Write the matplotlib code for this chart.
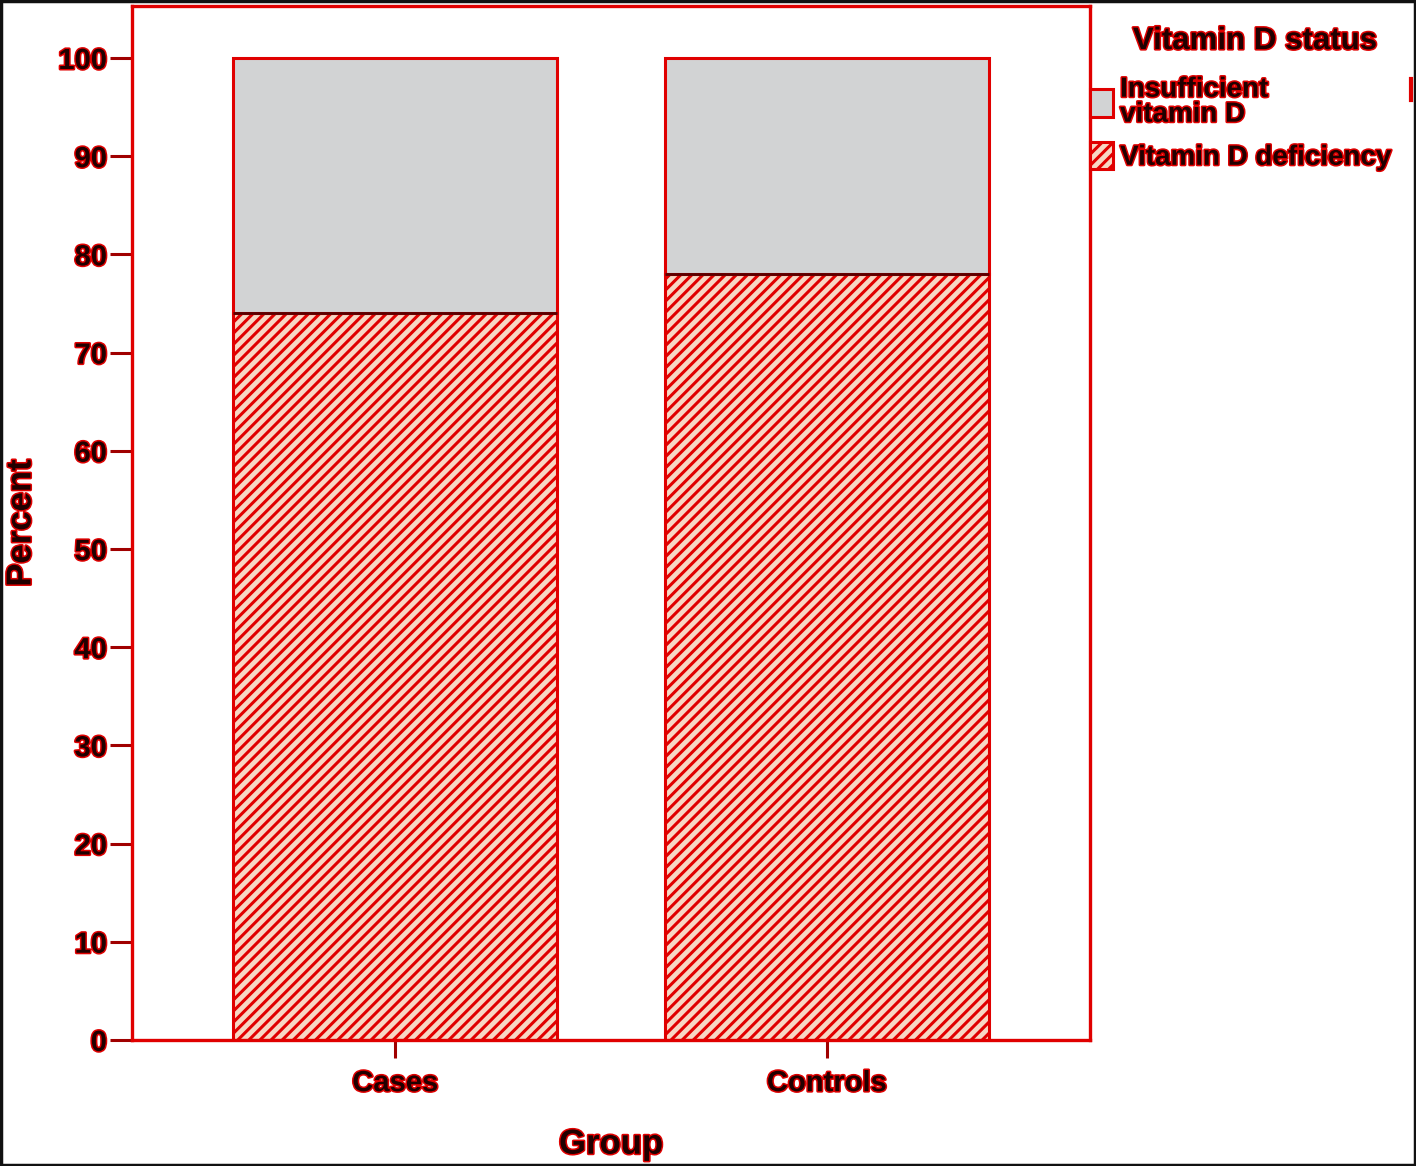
import numpy as np
import matplotlib
matplotlib.use("Agg")
import matplotlib.pyplot as plt
import matplotlib.patheffects as pe
from matplotlib.patches import Rectangle, Patch
from matplotlib.lines import Line2D

groups = ["Cases", "Controls"]
deficiency = [74, 78]
insufficient = [26, 22]
yticks = [0, 10, 20, 30, 40, 50, 60, 70, 80, 90, 100]

RED = "#e00000"
TXT = "#200000"
GRAY = "#d2d3d4"
PINK = "#f7d7c4"

plt.rcParams["font.family"] = ["Liberation Sans", "DejaVu Sans"]
plt.rcParams["font.weight"] = "bold"
plt.rcParams["axes.labelweight"] = "bold"
plt.rcParams["hatch.linewidth"] = 2.2
plt.rcParams["hatch.color"] = RED

outline = [pe.withStroke(linewidth=2.2, foreground=RED)]

fig = plt.figure(figsize=(14.16, 11.66), dpi=100)
ax = fig.add_axes([0.0932, 0.1081, 0.6766, 0.8868])

x = np.arange(len(groups))
w = 0.75
ax.bar(x, deficiency, w, color=PINK, edgecolor=RED, hatch="///", linewidth=2.2,
       label="Vitamin D deficiency")
ax.bar(x, insufficient, w, bottom=deficiency, color=GRAY, edgecolor=RED, linewidth=2.2,
       label="Insufficient\nvitamin D")
# dark boundary between the two segments
ax.hlines(deficiency, x - w / 2, x + w / 2, color="#5a0000", linewidth=2.0, zorder=3)

ax.set_xlim(-0.61, 1.61)
ax.set_ylim(0, 105.3)
ax.set_yticks(yticks)
ax.set_xticks(x)
ax.set_xticklabels(groups)

for s in ax.spines.values():
    s.set_color(RED)
    s.set_linewidth(2.4)

ax.tick_params(axis="y", length=16, width=2.2, color="#a00000", pad=2, labelsize=21)
ax.tick_params(axis="x", length=13, width=2.2, color="#a00000", pad=8, labelsize=21)
for lab in ax.get_xticklabels() + ax.get_yticklabels():
    lab.set_color(TXT)
    lab.set_path_effects(outline)

ax.set_xlabel("Group", fontsize=25, color=TXT, labelpad=22, path_effects=outline)
ax.set_ylabel("Percent", fontsize=25, color=TXT, labelpad=15, path_effects=outline)

handles = [Patch(facecolor=GRAY, edgecolor=RED, linewidth=2.2, label="Insufficient\nvitamin D"),
           Patch(facecolor=PINK, edgecolor=RED, hatch="///", linewidth=2.2, label="Vitamin D deficiency")]
leg = ax.legend(handles=handles, loc="upper left", bbox_to_anchor=(0.985, 0.945), frameon=False,
                fontsize=20, handlelength=0.85, handleheight=1.15,
                handletextpad=0.25, borderpad=0.0, labelspacing=0.5)
for t in leg.get_texts():
    t.set_color(TXT)
    t.set_path_effects(outline)
    t.set_linespacing(0.95)

ax.text(1.172, 0.966, "Vitamin D status", transform=ax.transAxes, ha="center", va="center",
        fontsize=22.5, fontweight="bold", color=TXT, path_effects=outline, clip_on=False)

# small red mark at the right edge
fig.add_artist(Line2D([0.9968, 0.9968], [0.914, 0.932], transform=fig.transFigure,
                      color=RED, linewidth=3))

fig.patches.append(Rectangle((0.001, 0.001), 0.998, 0.998, transform=fig.transFigure,
                             fill=False, edgecolor="#111111", linewidth=2.5))

fig.savefig("out.png", dpi=100)
